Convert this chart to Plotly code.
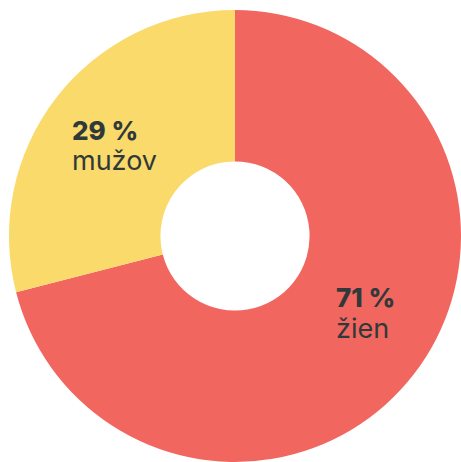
import plotly.graph_objects as go

labels = ["ženy", "muži"]
values = [71, 29]
colors = ["#F26660", "#F9DA6A"]
pct_labels = ["71 %", "29 %"]
word_labels = ["žien", "mužov"]

W, H = 461, 462
fig = go.Figure(go.Pie(
    labels=labels, values=values, hole=0.33, sort=False, direction="clockwise",
    rotation=0, marker=dict(colors=colors, line=dict(width=0)),
    textinfo="none", hoverinfo="label+percent",
    domain=dict(x=[9 / W, 1.0], y=[0.0, 1 - 10 / H]),
))

font = "Inter"
txt_col = "#30393A"
# positions (px) for annotations: [ (x_left, y_center_pct, y_center_word) ]
pos = [(334, 297, 328), (70, 130, 160)]
for (x, yp, yw), p, w in zip(pos, pct_labels, word_labels):
    fig.add_annotation(x=x / W, y=1 - yp / H, xref="paper", yref="paper", xanchor="left",
                       yanchor="middle", text=p, showarrow=False,
                       font=dict(family=font, size=26, color=txt_col, weight=800))
    fig.add_annotation(x=x / W, y=1 - yw / H, xref="paper", yref="paper", xanchor="left",
                       yanchor="middle", text=w, showarrow=False,
                       font=dict(family=font, size=27, color=txt_col, weight=400))

fig.update_layout(width=W, height=H, margin=dict(l=0, r=0, t=0, b=0),
                  showlegend=False, paper_bgcolor="white", plot_bgcolor="white")
fig.write_html("out.html")
